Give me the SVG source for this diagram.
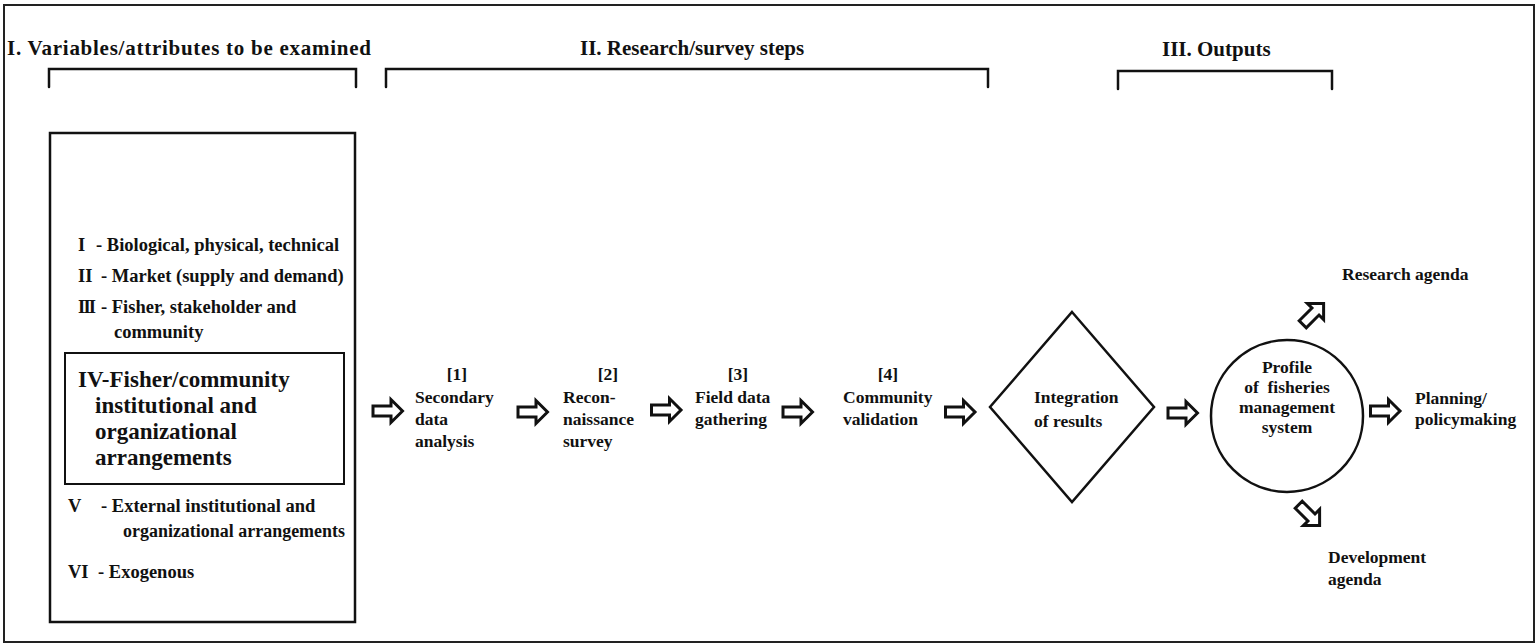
<svg xmlns="http://www.w3.org/2000/svg" xmlns:xlink="http://www.w3.org/1999/xlink" width="1538" height="644" viewBox="0 0 1538 644">
  <style>
    .t { font-family: "Liberation Serif", "Times New Roman", serif; font-weight: bold; fill: #111; }
    .h { font-size: 21px; }
    .it { font-size: 18.5px; }
    .iv { font-size: 23px; }
    .st { font-size: 17.5px; }
    .ln { fill: none; stroke: #111; stroke-width: 2.5; stroke-linecap: round; }
    .box { fill: none; stroke: #111; stroke-width: 2.5; }
    .blk { fill: #fff; stroke: #111; stroke-width: 3; stroke-linejoin: miter; }
  </style>
  <defs>
    <!-- hollow block arrow pointing right, centred on the origin -->
    <path id="arr" class="blk" d="M-14.5,-5 H3.5 V-11.5 L15,0 L3.5,11.5 V5 H-14.5 Z"/>
  </defs>

  <rect x="0" y="0" width="1538" height="644" fill="#fff"/>
  <!-- outer frame -->
  <rect x="4" y="5" width="1530" height="637" fill="none" stroke="#222" stroke-width="2"/>

  <!-- section headings with brackets -->
  <g id="headings">
    <text class="t h" x="7" y="55" textLength="364" lengthAdjust="spacing">I. Variables/attributes to be examined</text>
    <text class="t h" x="580" y="55">II. Research/survey steps</text>
    <text class="t h" x="1162" y="56">III. Outputs</text>
    <path class="ln" d="M49,87 V69 H356 V87"/>
    <path class="ln" d="M386,87 V69 H988 V87"/>
    <path class="ln" d="M1118,89 V71 H1332 V89"/>
  </g>

  <!-- variables box -->
  <g id="variables">
    <rect class="box" x="50" y="133" width="305" height="489"/>
    <text class="t it"><tspan x="78" y="251">I</tspan><tspan x="96" y="251">- Biological, physical, technical</tspan></text>
    <text class="t it"><tspan x="78" y="282">II</tspan><tspan x="101" y="282">- Market (supply and demand)</tspan></text>
    <text class="t it"><tspan x="78" y="313" textLength="18">III</tspan><tspan x="101" y="313">- Fisher, stakeholder and</tspan><tspan x="114" y="338">community</tspan></text>
    <g id="var-iv">
      <rect fill="none" stroke="#111" stroke-width="2" x="65" y="353" width="279" height="131"/>
      <text class="t iv"><tspan x="78" y="387">IV-Fisher/community</tspan><tspan x="95" y="413">institutional and</tspan><tspan x="95" y="439">organizational</tspan><tspan x="95" y="465">arrangements</tspan></text>
    </g>
    <text class="t it"><tspan x="68" y="512">V</tspan><tspan x="101" y="512">- External institutional and</tspan><tspan x="123" y="537" textLength="222" lengthAdjust="spacingAndGlyphs">organizational arrangements</tspan></text>
    <text class="t it"><tspan x="68" y="578">VI</tspan><tspan x="98" y="578">- Exogenous</tspan></text>
  </g>

  <!-- research / survey steps -->
  <g id="step1">
    <text class="t st"><tspan x="457" y="380" text-anchor="middle">[1]</tspan><tspan x="415" y="403">Secondary</tspan><tspan x="415" y="425">data</tspan><tspan x="415" y="447">analysis</tspan></text>
  </g>
  <g id="step2">
    <text class="t st"><tspan x="608" y="380" text-anchor="middle">[2]</tspan><tspan x="563" y="403">Recon-</tspan><tspan x="563" y="425">naissance</tspan><tspan x="563" y="447">survey</tspan></text>
  </g>
  <g id="step3">
    <text class="t st"><tspan x="738" y="380" text-anchor="middle">[3]</tspan><tspan x="695" y="403">Field data</tspan><tspan x="695" y="425">gathering</tspan></text>
  </g>
  <g id="step4">
    <text class="t st"><tspan x="888" y="380" text-anchor="middle">[4]</tspan><tspan x="843" y="403">Community</tspan><tspan x="843" y="425">validation</tspan></text>
  </g>

  <!-- integration -->
  <g id="integration">
    <polygon class="box" points="1072,312 1154,407 1072,502 990,407"/>
    <text class="t st"><tspan x="1034" y="403">Integration</tspan><tspan x="1034" y="427">of results</tspan></text>
  </g>

  <!-- profile -->
  <g id="profile">
    <circle class="box" cx="1287" cy="416" r="76"/>
    <text class="t st" text-anchor="middle" xml:space="preserve"><tspan x="1287" y="373">Profile</tspan><tspan x="1287" y="393">of  fisheries</tspan><tspan x="1287" y="413">management</tspan><tspan x="1287" y="433">system</tspan></text>
  </g>

  <!-- outputs -->
  <g id="research-agenda">
    <text class="t st" x="1342" y="280">Research agenda</text>
  </g>
  <g id="planning">
    <text class="t st"><tspan x="1415" y="404">Planning/</tspan><tspan x="1415" y="425">policymaking</tspan></text>
  </g>
  <g id="development-agenda">
    <text class="t st"><tspan x="1328" y="563">Development</tspan><tspan x="1328" y="585">agenda</tspan></text>
  </g>

  <!-- flow arrows -->
  <g id="connectors">
    <use xlink:href="#arr" transform="translate(387.5,411)"/>
    <use xlink:href="#arr" transform="translate(532.5,412)"/>
    <use xlink:href="#arr" transform="translate(666,410)"/>
    <use xlink:href="#arr" transform="translate(797.5,412)"/>
    <use xlink:href="#arr" transform="translate(960,412)"/>
    <use xlink:href="#arr" transform="translate(1182.5,413)"/>
    <use xlink:href="#arr" transform="translate(1385,411)"/>
    <use xlink:href="#arr" transform="translate(1313,314) rotate(-45)"/>
    <use xlink:href="#arr" transform="translate(1309,515) rotate(45)"/>
  </g>
</svg>
